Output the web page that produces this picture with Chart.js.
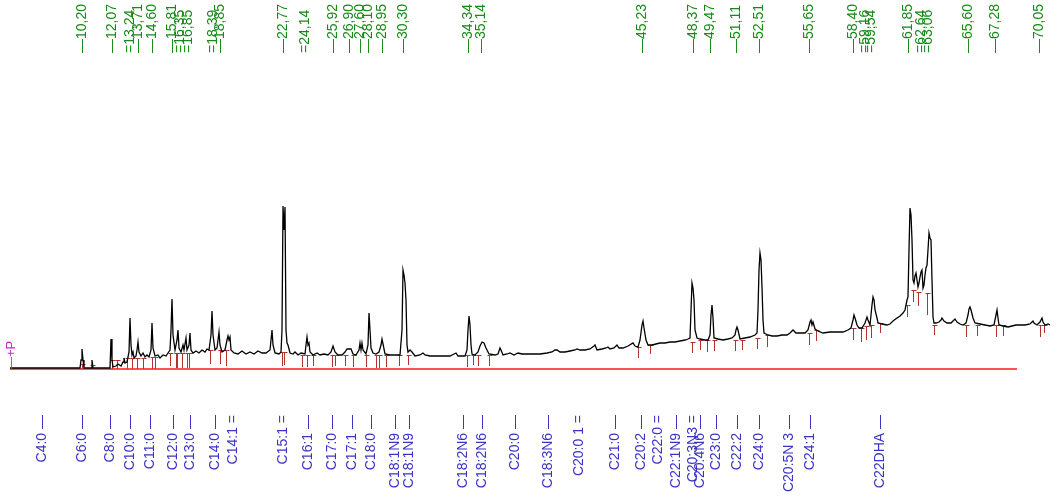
<!DOCTYPE html>
<html><head><meta charset="utf-8">
<style>html,body{margin:0;padding:0;background:#fff}#wrap{width:1057px;height:497px}</style>
<script src="https://cdn.jsdelivr.net/npm/chart.js@4.4.1/dist/chart.umd.min.js"></script>
</head><body><div id="wrap"><canvas id="c" width="1057" height="497"></canvas></div>
<script>
// Chromatogram trace: [retention time (min), detector response]
const tracePoints = [
[5.700,1],[10.075,1],[10.138,9],[10.200,20],[10.263,9],[10.325,1],[10.763,1],[10.825,9],[10.888,1],[11.950,1],
[12.013,30],[12.075,9],[12.138,2],[12.325,3],[12.450,5],[12.638,3],[12.763,7],[12.825,11],[12.888,6],[13.013,7],
[13.138,17],[13.200,51],[13.263,24],[13.325,14],[13.388,17],[13.450,11],[13.575,13],[13.638,19],[13.700,27],[13.763,17],
[13.888,13],[14.013,16],[14.138,12],[14.263,14],[14.388,12],[14.513,19],[14.575,46],[14.638,21],[14.763,13],[14.950,14],
[15.075,11],[15.263,14],[15.450,13],[15.575,16],[15.700,19],[15.763,39],[15.825,70],[15.888,34],[16.013,19],[16.138,29],
[16.200,39],[16.263,21],[16.388,17],[16.513,24],[16.575,19],[16.700,31],[16.763,19],[16.888,24],[16.950,36],[17.013,19],
[17.138,16],[17.325,18],[17.513,16],[17.700,19],[17.888,17],[18.013,20],[18.138,19],[18.263,34],[18.325,58],[18.388,34],
[18.513,19],[18.638,21],[18.763,37],[18.825,24],[18.950,17],[19.138,19],[19.263,29],[19.325,33],[19.388,29],[19.450,32],
[19.513,19],[19.700,16],[19.950,15],[20.200,18],[20.450,15],[20.700,17],[20.950,15],[21.200,18],[21.450,16],[21.700,16],
[21.950,19],[22.013,29],[22.075,39],[22.138,24],[22.263,16],[22.513,15],[22.638,17],[22.700,39],[22.763,163],[22.825,139],
[22.888,162],[22.950,39],[23.013,26],[23.075,24],[23.200,16],[23.388,15],[23.513,17],[23.700,14],[23.888,16],[24.138,15],
[24.200,24],[24.263,32],[24.325,24],[24.388,26],[24.450,17],[24.638,14],[24.888,16],[25.075,14],[25.325,15],[25.575,14],
[25.763,17],[25.888,23],[26.013,17],[26.200,14],[26.450,14],[26.638,17],[26.763,20],[27.013,20],[27.138,15],[27.325,14],
[27.513,19],[27.575,26],[27.638,19],[27.700,26],[27.763,19],[27.950,15],[28.075,24],[28.138,56],[28.200,39],[28.263,21],
[28.388,16],[28.575,15],[28.763,17],[28.888,24],[28.950,30],[29.013,25],[29.138,15],[29.450,14],[29.763,14],[30.075,14],
[30.200,39],[30.263,99],[30.325,94],[30.388,86],[30.450,69],[30.513,24],[30.575,17],[30.700,19],[30.825,17],[31.013,13],
[31.325,14],[31.513,16],[31.638,14],[31.950,13],[32.575,13],[33.200,13],[33.450,15],[33.575,16],[33.700,13],[34.138,13],
[34.263,19],[34.325,39],[34.388,53],[34.450,44],[34.513,24],[34.575,15],[34.763,14],[34.950,17],[35.075,23],[35.200,27],
[35.325,26],[35.450,21],[35.638,15],[36.013,14],[36.200,15],[36.325,21],[36.388,19],[36.513,14],[36.763,15],[36.950,16],
[37.200,14],[37.450,16],[37.700,15],[38.200,15],[38.825,15],[39.263,16],[39.575,17],[39.763,19],[39.888,19],[40.075,17],
[40.388,17],[40.700,18],[41.013,19],[41.138,20],[41.325,19],[41.638,19],[41.950,20],[42.200,23],[42.263,24],[42.388,19],
[42.700,20],[42.950,21],[43.075,22],[43.200,20],[43.450,21],[43.638,24],[43.763,21],[44.013,21],[44.325,23],[44.638,26],
[44.763,23],[44.950,22],[45.075,29],[45.200,44],[45.263,48],[45.325,41],[45.450,29],[45.575,24],[45.825,24],[46.075,25],
[46.325,26],[46.638,26],[46.950,27],[47.263,27],[47.575,28],[47.888,29],[48.075,30],[48.200,31],[48.263,59],[48.325,86],
[48.388,81],[48.450,69],[48.513,39],[48.638,31],[48.825,30],[49.138,29],[49.325,29],[49.450,34],[49.513,54],[49.575,64],
[49.638,51],[49.700,31],[49.950,30],[50.263,29],[50.575,30],[50.825,31],[51.013,34],[51.075,39],[51.138,42],[51.200,39],
[51.325,30],[51.638,31],[51.950,32],[52.263,34],[52.388,36],[52.450,59],[52.513,99],[52.575,116],[52.638,109],[52.700,82],
[52.763,49],[52.825,36],[53.075,34],[53.325,33],[53.638,33],[53.950,34],[54.263,34],[54.450,36],[54.638,39],[54.825,36],
[55.075,36],[55.388,36],[55.575,39],[55.700,47],[55.763,49],[55.825,44],[55.888,47],[56.013,40],[56.200,38],[56.513,36],
[56.950,37],[57.388,37],[57.763,37],[58.075,39],[58.263,41],[58.388,49],[58.450,54],[58.513,51],[58.638,44],[58.763,41],
[58.950,41],[59.138,46],[59.263,52],[59.325,49],[59.450,44],[59.513,54],[59.575,64],[59.638,72],[59.700,69],[59.763,59],
[59.888,51],[59.950,46],[60.200,45],[60.513,44],[60.700,45],[60.888,48],[61.138,51],[61.325,53],[61.513,56],[61.638,59],
[61.763,69],[61.825,72],[61.888,119],[61.950,161],[62.013,154],[62.075,129],[62.138,89],[62.200,86],[62.263,93],[62.325,96],
[62.388,89],[62.450,82],[62.513,86],[62.575,92],[62.638,97],[62.700,99],[62.763,81],[62.825,84],[62.888,94],[62.950,101],
[63.013,104],[63.075,119],[63.138,136],[63.200,131],[63.263,129],[63.325,89],[63.388,52],[63.450,46],[63.575,46],[63.763,47],
[63.888,49],[63.950,51],[64.075,48],[64.263,46],[64.513,46],[64.638,48],[64.763,50],[64.888,47],[65.075,45],[65.263,44],
[65.450,46],[65.575,54],[65.638,60],[65.700,62],[65.763,59],[65.888,51],[66.013,46],[66.325,45],[66.638,44],[66.950,43],
[67.200,44],[67.325,54],[67.388,59],[67.450,51],[67.513,44],[67.763,43],[68.075,42],[68.325,43],[68.575,44],[68.825,44],
[69.138,44],[69.450,45],[69.575,47],[69.638,48],[69.700,46],[69.888,44],[70.075,47],[70.200,51],[70.263,47],[70.388,44],
[70.575,45],[70.700,44]
];

// Baseline (red) start / end time
const baselineTimes = [5.70, 68.64];
const baselineLevel = [0, 0];

// Integration marks: time, top response, bottom response
const markTimes = [10.200,10.825,12.075,12.388,13.013,13.325,13.638,14.013,14.575,14.763,15.700,16.075,16.138,16.450,16.763,16.888,18.200,18.825,19.200,22.700,22.825,23.950,24.263,24.638,25.825,26.013,26.638,27.138,27.950,28.575,28.763,29.200,30.013,30.575,34.263,34.638,34.950,35.638,44.950,45.700,48.325,48.825,49.263,49.700,51.013,51.450,52.388,53.013,55.638,56.075,58.388,58.888,59.200,59.513,60.075,61.763,62.138,62.450,63.013,63.450,65.450,66.138,67.325,67.763,70.075,70.325];
const markTop = [5,4,9,9,11,11,11,11,12,12,16,16,16,16,16,16,19,19,19,17,17,14,14,14,14,14,14,14,14,14,14,14,14,14,14,14,14,14,22,24,27,29,29,29,29,29,31,34,36,39,41,41,43,44,46,64,79,77,76,44,44,44,44,44,44,44];
const markBottom = [0,0,0,0,0,0,0,0,0,0,3,1,1,1,1,1,5,5,3,3,4,2,2,3,2,3,3,2,2,1,1,2,3,4,2,4,3,3,11,15,16,19,17,18,18,19,20,22,24,28,29,27,29,31,36,52,67,63,54,34,32,33,32,33,32,36];

// Retention time labels (top)
const peakTimes = [10.20,12.07,13.24,13.71,14.60,15.81,16.35,16.85,18.39,18.85,22.77,24.14,25.92,26.90,27.60,28.10,28.95,30.30,34.34,35.14,45.23,48.37,49.47,51.11,52.51,55.65,58.40,59.16,59.54,61.85,62.64,63.06,65.60,67.28,70.05];
const peakTicks = ["—","—","=","—","—","—","=","=","=","—","—","=","—","—","—","—","—","—","—","—","—","—","—","—","—","—","—","=","=","—","=","=","—","—","—"];

// Compound identification labels (bottom)
const compoundNames = ["C4:0","C6:0","C8:0","C10:0","C11:0","C12:0","C13:0","C14:0","C14:1","C15:1","C16:1","C17:0","C17:1","C18:0","C18:1N9","C18:1N9","C18:2N6","C18:2N6","C20:0","C18:3N6","C20:0 1","C21:0","C20:2","C22:0","C22:1N9","C20:3N3","C20:4N6","C23:0","C22:2","C24:0","C20:5N 3","C24:1","C22DHA"];
const compoundTimes = [7.70,10.20,11.95,13.20,14.45,15.89,16.95,18.51,19.64,22.76,24.33,25.83,27.08,28.26,29.76,30.64,34.01,35.20,37.26,39.33,41.26,43.51,45.14,46.20,47.33,48.39,48.83,49.83,51.14,52.51,54.39,55.70,60.08];
const compoundTicks = ["—","—","—","—","—","—","—","—","=","=","—","—","—","—","—","—","—","—","—","—","=","—","—","=","—","=","—","—","—","—","—","—","—"];

const FONT = '14px Arial, "Liberation Sans", sans-serif';

const annotPlugin = {
  id: 'annot',
  beforeDatasetsDraw(chart) {
    const {ctx, scales: {x, y}} = chart;
    ctx.save();
    ctx.strokeStyle = '#b3312f';
    ctx.lineWidth = 1;
    for (let i = 0; i < markTimes.length; i++) {
      const px = Math.round(x.getPixelForValue(markTimes[i])) + 0.5;
      const t = Math.round(y.getPixelForValue(markTop[i]));
      const b = Math.round(y.getPixelForValue(markBottom[i]));
      ctx.beginPath();
      ctx.moveTo(px - 2, t + 0.5); ctx.lineTo(px + 3, t + 0.5);
      ctx.moveTo(px, t); ctx.lineTo(px, b);
      ctx.stroke();
    }
    ctx.restore();
  },
  afterDraw(chart) {
    const {ctx, scales: {x}} = chart;
    ctx.save();
    ctx.font = FONT;
    ctx.textBaseline = 'middle';
    // top retention times
    ctx.fillStyle = '#168a16';
    ctx.textAlign = 'left';
    for (let i = 0; i < peakTimes.length; i++) {
      const px = x.getPixelForValue(peakTimes[i]);
      ctx.save();
      ctx.translate(px, 53);
      ctx.rotate(-Math.PI / 2);
      ctx.fillText(peakTicks[i] + peakTimes[i].toFixed(2).replace('.', ','), 0, 0);
      ctx.restore();
    }
    // bottom compound names
    ctx.fillStyle = '#3a33c4';
    ctx.textAlign = 'right';
    for (let i = 0; i < compoundNames.length; i++) {
      const px = x.getPixelForValue(compoundTimes[i]);
      ctx.save();
      ctx.translate(px, 415);
      ctx.rotate(-Math.PI / 2);
      ctx.fillText(compoundNames[i] + ' ' + compoundTicks[i], 0, 0);
      ctx.restore();
    }
    // start marker
    ctx.fillStyle = '#c030c0';
    ctx.textAlign = 'left';
    ctx.font = '13px Arial, "Liberation Sans", sans-serif';
    ctx.save();
    ctx.translate(x.getPixelForValue(5.82), 370);
    ctx.rotate(-Math.PI / 2);
    ctx.fillText('—+P', 0, 0);
    ctx.restore();
    ctx.restore();
  }
};

new Chart(document.getElementById('c'), {
  type: 'line',
  data: {
    datasets: [
      {
        data: tracePoints.map(p => ({x: p[0], y: p[1]})),
        borderColor: '#000', borderWidth: 1.3, pointRadius: 0, tension: 0, fill: false, clip: false
      },
      {
        data: baselineTimes.map((t, i) => ({x: t, y: baselineLevel[i]})),
        borderColor: '#ff1a1a', borderWidth: 1.6, pointRadius: 0, fill: false, clip: false
      }
    ]
  },
  options: {
    responsive: false, animation: false, devicePixelRatio: 1,
    layout: {padding: {left: 10, right: 7, top: 0, bottom: 127}},
    plugins: {legend: {display: false}, tooltip: {enabled: false}},
    scales: {
      x: {type: 'linear', display: false, min: 5.70, max: 70.70},
      y: {type: 'linear', display: false, min: -1, max: 369}
    }
  },
  plugins: [annotPlugin]
});
</script>
</body></html>
